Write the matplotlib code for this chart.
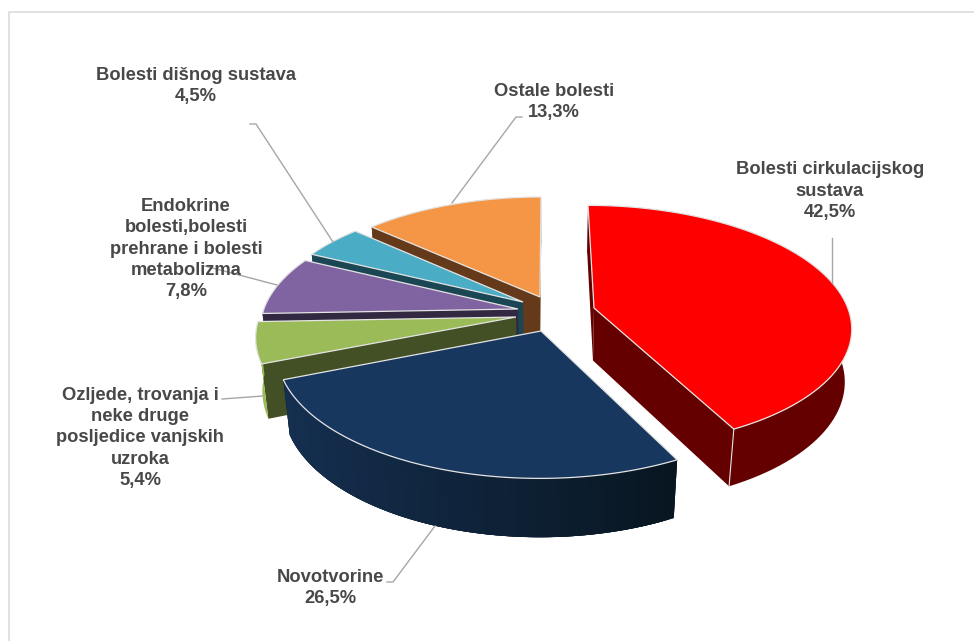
import numpy as np
import matplotlib
matplotlib.use('Agg')
import matplotlib.pyplot as plt
from matplotlib.patches import Polygon
from matplotlib.colors import to_rgb

plt.rcParams['font.family'] = ['Liberation Sans', 'DejaVu Sans']

### chart data
names = ['Bolesti cirkulacijskog\nsustava', 'Novotvorine',
         'Ozljede, trovanja i\nneke druge\nposljedice vanjskih\nuzroka',
         'Endokrine\nbolesti,bolesti\nprehrane i bolesti\nmetabolizma',
         'Bolesti dišnog sustava', 'Ostale bolesti']
shares = [42.5, 26.5, 5.4, 7.8, 4.5, 13.3]
share_labels = ['42,5%', '26,5%', '5,4%', '7,8%', '4,5%', '13,3%']

### look of the slices
top_colors = ['#ff0000', '#17375e', '#9bbb59', '#8064a2', '#4bacc6', '#f59646']
face_colors = ['#640000', '#0e2138', '#434f24', '#332841', '#1b4754', '#643a1b']
wall_left = ['#640000', '#152f50', '#9bbb59', '#332841', '#1b4754', '#643a1b']
wall_right = ['#640000', '#081621', '#9bbb59', '#332841', '#1b4754', '#643a1b']
# where each slice's tip sits on the image (exploded slices)
tips_x = [594, 541, 516, 518, 523, 540]
tips_y = [308, 331, 317, 309, 302, 297]
label_pos = [(830, 191), (330, 588), (140, 438), (186, 249), (196, 86), (554, 102)]
leaders = [[(832, 238), (832, 283)],
           [(387, 582), (393, 582), (435, 526)],
           [(222, 399), (263, 396)],
           [(205, 266), (277, 285)],
           [(250, 124), (256, 124), (333, 242)],
           [(522, 117), (516, 117), (452, 203)]]

# perspective of the tilted pie
X0, Y0 = 548, 315
A, T, K, DEPTH, M = 256, 120, 0.15, 54, 0.023


def project(x, y, z):
    w = 1 + K * y + M * z
    return X0 + A * x / w, Y0 + (-T * y + DEPTH * z) / w


def tip_world(sx, sy):
    u = sy - Y0
    y = -u / (T + K * u)
    x = (sx - X0) * (1 + K * y) / A
    return x, y


fig = plt.figure(figsize=(9.74, 6.41), dpi=100)
ax = fig.add_axes([0, 0, 1, 1])
ax.set_xlim(0, 974)
ax.set_ylim(641, 0)
ax.axis('off')

# chart frame
ax.plot([9, 9, 974], [641, 12, 12], color='#dcdcdc', lw=1.2)

angles = np.radians(np.concatenate([[0], np.cumsum(shares)]) * 3.6)
edge = '#e4e4e4'

# far slices first, the red and the navy one last
for i in [5, 4, 3, 2, 1, 0]:
    cx, cy = tip_world(tips_x[i], tips_y[i])
    th = np.linspace(angles[i], angles[i + 1], 80)
    ax_x = cx + np.sin(th)
    ax_y = cy + np.cos(th)

    # the two flat cut faces
    for t in (th[-1], th[0]):
        ex, ey = cx + np.sin(t), cy + np.cos(t)
        pts = [project(cx, cy, 0), project(ex, ey, 0), project(ex, ey, 1), project(cx, cy, 1)]
        ax.add_patch(Polygon(pts, closed=True, fc=face_colors[i], ec='none'))

    # curved wall: one solid shape, then overlapping pieces if it has a gradient
    sx, sy = project(ax_x, ax_y, 0)
    bx, by = project(ax_x, ax_y, 1)
    c0 = np.array(to_rgb(wall_left[i]))
    c1 = np.array(to_rgb(wall_right[i]))
    pts = np.column_stack([np.r_[sx, bx[::-1]], np.r_[sy, by[::-1]]])
    ax.add_patch(Polygon(pts, closed=True, fc=(c0 + c1) / 2, ec='none'))
    if wall_left[i] != wall_right[i]:
        for j in range(len(th) - 3):
            k = j + 3
            pts = [(sx[j], sy[j]), (sx[k], sy[k]), (bx[k], by[k]), (bx[j], by[j])]
            f = (sx[j] - sx.min()) / (sx.max() - sx.min())
            ax.add_patch(Polygon(pts, closed=True, fc=c0 + (c1 - c0) * f, ec='none'))

    # upright edge of the cut, red slice shows it
    if i == 0:
        ax.plot([sx[-1], bx[-1]], [sy[-1], by[-1]], color=edge, lw=0.8)

    # top surface
    tx, ty = project(cx, cy, 0)
    pts = np.column_stack([np.r_[tx, sx], np.r_[ty, sy]])
    ax.add_patch(Polygon(pts, closed=True, fc=top_colors[i], ec=edge, lw=0.9))

for line in leaders:
    xs, ys = zip(*line)
    ax.plot(xs, ys, color='#a6a6a6', lw=1)

for name, val, pos in zip(names, share_labels, label_pos):
    ax.text(pos[0], pos[1], name + '\n' + val, ha='center', va='center',
            fontsize=13.2, fontweight='bold', color='#484848', linespacing=1.34)

fig.savefig('out.png', dpi=100)
